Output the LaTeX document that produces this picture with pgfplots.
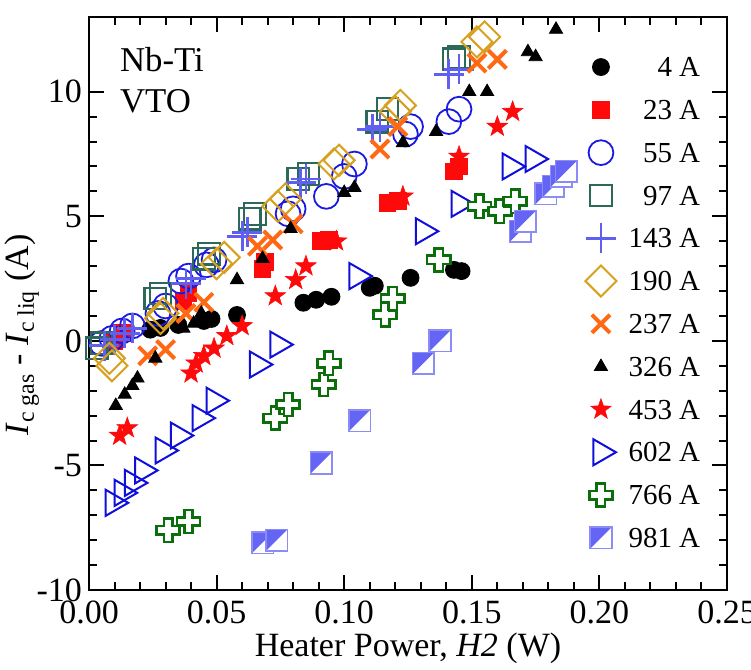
\documentclass[border=0pt]{standalone}
\usepackage{fontspec}
\setmainfont{Liberation Serif}
\usepackage{pgfplots}
\pgfplotsset{compat=1.18}
\definecolor{c55}{RGB}{25,25,225}
\definecolor{c97}{RGB}{45,105,90}
\definecolor{c143}{RGB}{95,95,240}
\definecolor{c190}{RGB}{215,160,30}
\definecolor{c237}{RGB}{255,105,20}
\definecolor{c453}{RGB}{255,10,10}
\definecolor{c602}{RGB}{15,15,220}
\definecolor{c766}{RGB}{10,110,10}
\definecolor{c981}{RGB}{100,100,245}
\definecolor{c981e}{RGB}{140,140,245}
\pgfdeclareplotmark{fstar}{%
  \pgfpathmoveto{\pgfqpointpolar{90}{\pgfplotmarksize}}%
  \pgfpathlineto{\pgfqpointpolar{126}{0.4\pgfplotmarksize}}%
  \pgfpathlineto{\pgfqpointpolar{162}{\pgfplotmarksize}}%
  \pgfpathlineto{\pgfqpointpolar{198}{0.4\pgfplotmarksize}}%
  \pgfpathlineto{\pgfqpointpolar{234}{\pgfplotmarksize}}%
  \pgfpathlineto{\pgfqpointpolar{270}{0.4\pgfplotmarksize}}%
  \pgfpathlineto{\pgfqpointpolar{306}{\pgfplotmarksize}}%
  \pgfpathlineto{\pgfqpointpolar{342}{0.4\pgfplotmarksize}}%
  \pgfpathlineto{\pgfqpointpolar{18}{\pgfplotmarksize}}%
  \pgfpathlineto{\pgfqpointpolar{54}{0.4\pgfplotmarksize}}%
  \pgfpathclose\pgfusepathqfillstroke}
\pgfdeclareplotmark{ocross}{%
  \pgfpathmoveto{\pgfqpoint{-0.36\pgfplotmarksize}{\pgfplotmarksize}}%
  \pgfpathlineto{\pgfqpoint{0.36\pgfplotmarksize}{\pgfplotmarksize}}%
  \pgfpathlineto{\pgfqpoint{0.36\pgfplotmarksize}{0.36\pgfplotmarksize}}%
  \pgfpathlineto{\pgfqpoint{\pgfplotmarksize}{0.36\pgfplotmarksize}}%
  \pgfpathlineto{\pgfqpoint{\pgfplotmarksize}{-0.36\pgfplotmarksize}}%
  \pgfpathlineto{\pgfqpoint{0.36\pgfplotmarksize}{-0.36\pgfplotmarksize}}%
  \pgfpathlineto{\pgfqpoint{0.36\pgfplotmarksize}{-\pgfplotmarksize}}%
  \pgfpathlineto{\pgfqpoint{-0.36\pgfplotmarksize}{-\pgfplotmarksize}}%
  \pgfpathlineto{\pgfqpoint{-0.36\pgfplotmarksize}{-0.36\pgfplotmarksize}}%
  \pgfpathlineto{\pgfqpoint{-\pgfplotmarksize}{-0.36\pgfplotmarksize}}%
  \pgfpathlineto{\pgfqpoint{-\pgfplotmarksize}{0.36\pgfplotmarksize}}%
  \pgfpathlineto{\pgfqpoint{-0.36\pgfplotmarksize}{0.36\pgfplotmarksize}}%
  \pgfpathclose\pgfusepathqfillstroke}
\pgfdeclareplotmark{halfsq}{%
  \pgfpathrectangle{\pgfqpoint{-\pgfplotmarksize}{-\pgfplotmarksize}}{\pgfqpoint{2\pgfplotmarksize}{2\pgfplotmarksize}}%
  \pgfusepathqfill
  \begin{pgfscope}\pgfsetfillcolor{c981}%
  \pgfpathmoveto{\pgfqpoint{-\pgfplotmarksize}{-\pgfplotmarksize}}%
  \pgfpathlineto{\pgfqpoint{-\pgfplotmarksize}{\pgfplotmarksize}}%
  \pgfpathlineto{\pgfqpoint{\pgfplotmarksize}{\pgfplotmarksize}}%
  \pgfpathclose\pgfusepathqfill
  \end{pgfscope}%
  \pgfpathrectangle{\pgfqpoint{-\pgfplotmarksize}{-\pgfplotmarksize}}{\pgfqpoint{2\pgfplotmarksize}{2\pgfplotmarksize}}%
  \pgfusepathqstroke}
\begin{document}
\begin{tikzpicture}
\begin{axis}[
  scale only axis, width=319pt, height=286.5pt,
  xmin=0, xmax=0.25, ymin=-10, ymax=13,
  xtick={0,0.05,0.10,0.15,0.20,0.25},
  xticklabels={0.00,0.05,0.10,0.15,0.20,0.25},
  ytick={-10,-5,0,5,10},
  yticklabels={-10,-5,0,5,10},
  minor x tick num=4, minor y tick num=4,
  tick align=inside, xtick pos=both, ytick pos=both,
  major tick length=7.5pt, minor tick length=4pt,
  tick style={line width=1pt, black},
  axis line style={line width=1.3pt},
  ticklabel style={font=\fontsize{17}{20}\selectfont},
  xticklabel style={yshift=-2pt},
  label style={font=\fontsize{17}{20}\selectfont},
  xlabel={Heater Power, \textit{H2} (W)},
  ylabel={\textit{I}\textsubscript{c gas} - \textit{I}\textsubscript{c liq} (A)},
  xlabel style={at={(axis description cs:0.5,-0.101)}, anchor=center},
  ylabel style={at={(axis description cs:-0.105,0.445)}, anchor=center},
  legend cell align=right,
  legend style={at={(axis description cs:0.958,0.95)}, anchor=north east,
    draw=none, fill=none, inner sep=0pt, outer sep=0pt,
    font=\fontsize{14.5}{17}\selectfont,
    nodes={inner sep=0pt, text height=15.5pt, text depth=5.9pt},
    row sep=0pt,
    /tikz/every odd column/.append style={column sep=6pt}},
]
\addplot[only marks, mark=*, mark size=4.2pt, mark options={draw=black, fill=black, line width=0.5pt}]
coordinates {(0.024,0.45)(0.028,0.52)(0.035,0.64)(0.045,0.8)(0.048,0.88)(0.058,1.04)(0.084,1.53)(0.089,1.65)(0.095,1.77)(0.110,2.13)(0.112,2.21)(0.126,2.53)(0.143,2.85)(0.146,2.8)};
\addlegendentry{4 A}
\addplot[only marks, mark=square*, mark size=4.2pt, mark options={draw=c453, fill=c453, line width=0.5pt}]
coordinates {(0.010,0.0)(0.013,0.3)(0.037,1.6)(0.039,1.9)(0.068,2.9)(0.069,3.15)(0.091,4.0)(0.094,4.05)(0.117,5.55)(0.121,5.6)(0.143,6.8)(0.145,7.0)};
\addlegendentry{23 A}
\addplot[only marks, mark=o, mark size=6.2pt, mark options={draw=c55, line width=0.9pt}]
coordinates {(0.005,-0.1)(0.009,0.1)(0.013,0.4)(0.017,0.6)(0.027,1.1)(0.030,1.4)(0.036,2.4)(0.039,2.6)(0.046,3.05)(0.049,3.25)(0.078,5.1)(0.080,5.3)(0.093,5.8)(0.100,6.6)(0.104,7.1)(0.124,8.3)(0.126,8.6)(0.141,8.8)(0.145,9.3)};
\addlegendentry{55 A}
\addplot[only marks, mark=square, mark size=5.4pt, mark options={draw=c97, line width=1.1pt}]
coordinates {(0.003,-0.3)(0.005,-0.1)(0.026,1.7)(0.028,1.9)(0.045,3.3)(0.047,3.5)(0.063,4.9)(0.065,5.1)(0.082,6.5)(0.086,6.7)(0.113,8.8)(0.117,9.3)(0.143,11.3)(0.145,11.4)};
\addlegendentry{97 A}
\addplot[only marks, mark=+, mark size=7.5pt, mark options={draw=c143, line width=1.4pt}]
coordinates {(0.006,-0.2)(0.010,0.05)(0.014,0.3)(0.017,0.5)(0.038,2.3)(0.040,2.5)(0.060,4.2)(0.062,4.35)(0.083,6.35)(0.085,6.5)(0.111,8.5)(0.114,8.6)(0.141,10.7)(0.145,10.9)};
\addlegendentry{143 A}
\addplot[only marks, mark=square, mark size=5.5pt, mark options={draw=c190, line width=1pt, rotate=45}]
coordinates {(0.008,-0.7)(0.009,-1.0)(0.028,0.9)(0.029,1.1)(0.050,3.1)(0.053,3.35)(0.074,5.4)(0.077,5.7)(0.096,7.1)(0.098,7.25)(0.120,9.2)(0.122,9.45)(0.152,12.0)(0.155,12.2)};
\addlegendentry{190 A}
\addplot[only marks, mark=x, mark size=6.4pt, mark options={draw=c237, line width=2pt}]
coordinates {(0.023,-0.6)(0.030,-0.35)(0.038,1.1)(0.045,1.55)(0.066,3.8)(0.072,4.05)(0.080,4.7)(0.114,7.7)(0.121,8.6)(0.152,11.15)(0.160,11.3)};
\addlegendentry{237 A}
\addplot[only marks, mark=triangle*, mark size=3.8pt, mark options={draw=black, fill=black, line width=0.4pt}]
coordinates {(0.0105,-2.6)(0.014,-2.15)(0.017,-1.8)(0.019,-1.5)(0.026,-0.7)(0.037,0.5)(0.041,0.7)(0.044,1.1)(0.058,2.45)(0.068,3.3)(0.079,4.5)(0.100,5.95)(0.104,6.15)(0.123,7.95)(0.136,8.4)(0.149,10.0)(0.156,10.0)(0.172,11.6)(0.175,11.4)(0.183,12.5)};
\addlegendentry{326 A}
\addplot[only marks, mark=fstar, mark size=5.4pt, mark options={draw=c453, fill=c453, line width=0.3pt}]
coordinates {(0.012,-3.8)(0.015,-3.5)(0.040,-1.3)(0.042,-0.9)(0.045,-0.6)(0.049,-0.3)(0.054,0.2)(0.060,0.6)(0.073,1.8)(0.081,2.45)(0.085,3.0)(0.097,4.0)(0.123,5.8)(0.145,7.4)(0.160,8.6)(0.166,9.2)};
\addlegendentry{453 A}
\addplot[only marks, mark=triangle, mark size=7.5pt, mark options={draw=c602, line width=1pt, rotate=-90}]
coordinates {(0.0095,-6.5)(0.013,-6.1)(0.017,-5.7)(0.021,-5.2)(0.029,-4.4)(0.035,-3.8)(0.0435,-3.1)(0.049,-2.4)(0.066,-0.95)(0.074,-0.15)(0.105,2.6)(0.131,4.4)(0.145,5.5)(0.165,7.0)(0.174,7.3)};
\addlegendentry{602 A}
\addplot[only marks, mark=ocross, mark size=5.8pt, mark options={draw=c766, fill=white, line width=1.3pt}]
coordinates {(0.031,-7.6)(0.039,-7.25)(0.073,-3.1)(0.078,-2.55)(0.092,-1.75)(0.094,-0.9)(0.116,1.05)(0.119,1.7)(0.137,3.25)(0.153,5.4)(0.161,5.2)(0.167,5.6)};
\addlegendentry{766 A}
\addplot[only marks, mark=halfsq, mark size=5.4pt, mark options={draw=c981e, fill=white, line width=0.8pt}]
coordinates {(0.068,-8.1)(0.0735,-8.0)(0.091,-4.9)(0.106,-3.2)(0.131,-0.9)(0.1375,0.0)(0.169,4.4)(0.171,4.8)(0.179,5.9)(0.182,6.2)(0.185,6.6)(0.187,6.8)};
\addlegendentry{981 A}
\node[anchor=base west, font=\fontsize{17.4}{20}\selectfont, inner sep=0pt] at (axis description cs:0.048,0.904) {Nb-Ti};
\node[anchor=base west, font=\fontsize{17.4}{20}\selectfont, inner sep=0pt] at (axis description cs:0.048,0.834) {VTO};
\end{axis}
\pgfresetboundingbox
\path[use as bounding box] ([xshift=-44.5pt,yshift=-39.5pt]current axis.south west) rectangle ([xshift=12pt,yshift=8.5pt]current axis.north east);
\end{tikzpicture}
\end{document}
